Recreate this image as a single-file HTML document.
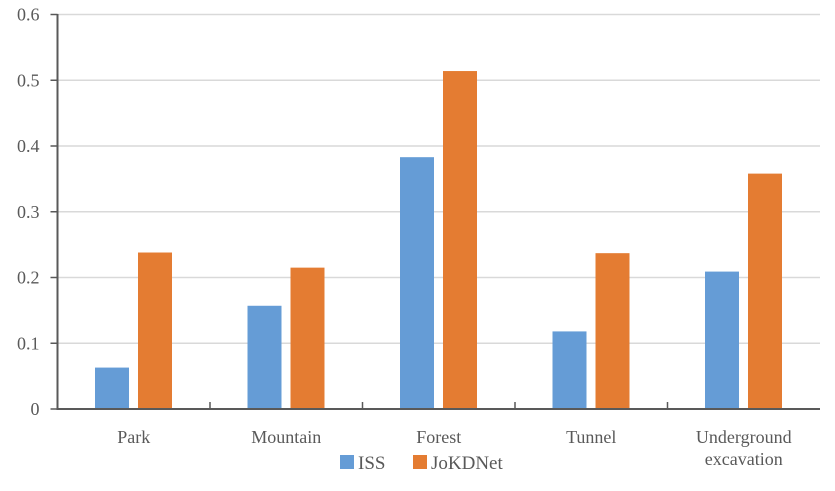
<!DOCTYPE html>
<html><head><meta charset="utf-8"><style>
body{margin:0;background:#fff;}
svg text{font-family:"Liberation Serif",serif;fill:#595959;}
</style></head><body>
<svg id="chart" width="835" height="486"></svg>
<script>
const categories=["Park","Mountain","Forest","Tunnel","Underground|excavation"];
const issValues=[0.063,0.157,0.383,0.118,0.209];
const jokdValues=[0.238,0.215,0.514,0.237,0.358];
const yTicks=[0,0.1,0.2,0.3,0.4,0.5,0.6];
const yTickLabels=["0","0.1","0.2","0.3","0.4","0.5","0.6"];
const seriesNames=["ISS","JoKDNet"];

const NS="http://www.w3.org/2000/svg";
const svg=document.getElementById('chart');
const x0=57.5,x1=820,y0=409,yTop=14.5,maxV=0.6;
const band=(x1-x0)/categories.length;
const y=v=>y0-(v/maxV)*(y0-yTop);
function mk(t,a,p){const e=document.createElementNS(NS,t);for(const k in a)e.setAttribute(k,a[k]);(p||svg).appendChild(e);return e;}
yTicks.forEach((v,i)=>{
  if(v>0){const g=mk('line',{x1:x0,x2:x1,y1:y(v),y2:y(v),stroke:'#d9d9d9','stroke-width':1.5});
  
  }
  const tk=mk('line',{x1:x0-7,x2:x0,y1:y(v),y2:y(v),stroke:'#595959','stroke-width':1.5});
  
  
  const t=mk('text',{x:x0-18,y:y(v)+6,'text-anchor':'end','font-size':18});
  t.textContent=yTickLabels[i];
  
  
});
categories.forEach((c,i)=>{
  const bx=x0+i*band;
  const b1=mk('rect',{x:bx+37.5,y:y(issValues[i]),width:34,height:y0-y(issValues[i]),fill:'#659cd6'});
  
  
  const b2=mk('rect',{x:bx+80.5,y:y(jokdValues[i]),width:34,height:y0-y(jokdValues[i]),fill:'#e47c32'});
  
  
  if(i>0){const ct=mk('line',{x1:bx,x2:bx,y1:y0-7,y2:y0,stroke:'#595959','stroke-width':1.5});
  
  }
  const parts=c.split('|');
  parts.forEach((p,j)=>{
    const t=mk('text',{x:bx+band/2,y:443+j*22,'text-anchor':'middle','font-size':18});
    t.textContent=p;
    
    
  });
});
const ax=mk('path',{d:`M${x0} 14 V${y0} H${x1}`,stroke:'#595959','stroke-width':2,fill:'none'});


const lg=[[340,'#659cd6',358],[413,'#e47c32',431]];
lg.forEach((l,i)=>{
  const r=mk('rect',{x:l[0],y:455,width:14,height:14,fill:l[1]});
  
  
  const t=mk('text',{x:l[2],y:469,'font-size':19});
  t.textContent=seriesNames[i];
  
  
});
</script>
</body></html>
